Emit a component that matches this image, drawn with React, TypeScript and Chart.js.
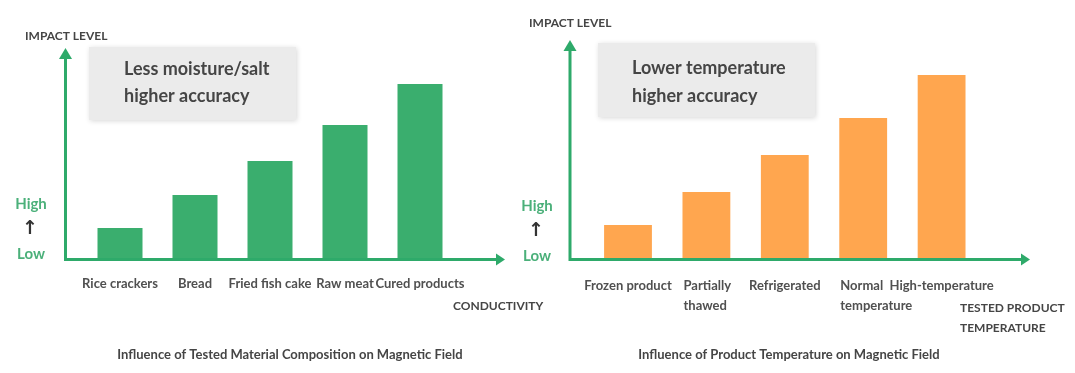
import React, { useEffect, useRef } from "react";
import { Chart, registerables } from "chart.js";
Chart.register(...registerables);

// ---------- data ----------
const compositionCategories: (string | string[])[] = ["Rice crackers", "Bread", "Fried fish cake", "Raw meat", "Cured products"];
const compositionImpact = [1.49, 3.05, 4.66, 6.36, 8.3];
const temperatureCategories: (string | string[])[] = ["Frozen product", ["Partially", "thawed"], "Refrigerated", ["Normal", "temperature"], "High-temperature"];
const temperatureImpact = [1.57, 3.08, 4.76, 6.45, 8.41];
const levelLabels = ["High", "↑", "Low"];
const compositionNote = ["Less moisture/salt", "higher accuracy"];
const temperatureNote = ["Lower temperature", "higher accuracy"];
const compositionXTitle = ["CONDUCTIVITY"];
const temperatureXTitle = ["TESTED PRODUCT", "TEMPERATURE"];
const yAxisTitle = "IMPACT LEVEL";
const compositionTitle = "Influence of Tested Material Composition on Magnetic Field";
const temperatureTitle = "Influence of Product Temperature on Magnetic Field";
const Y_MAX = 10;

const W = 1075;
const H = 373;
const FONT = "Lato, 'Noto Sans', sans-serif";
const TEXT = "#454545";
const LABEL = "#505050";
const AXIS = "#2eaa6a";
const GREEN_TEXT = "#4bb07a";

const decor = {
  id: "decor",
  beforeDatasetsDraw(chart: any, _a: any, o: any) {
    const ctx = chart.ctx as CanvasRenderingContext2D;
    ctx.save();
    ctx.shadowColor = "rgba(0,0,0,0.16)";
    ctx.shadowBlur = 5;
    ctx.shadowOffsetX = 1;
    ctx.shadowOffsetY = 1;
    ctx.fillStyle = "#ebebeb";
    ctx.fillRect(o.box.x, o.box.y, o.box.w, o.box.h);
    ctx.restore();
    ctx.save();
    ctx.fillStyle = TEXT;
    ctx.font = `bold 18px ${FONT}`;
    ctx.textBaseline = "middle";
    ctx.textAlign = "left";
    o.note.forEach((t: string, i: number) => ctx.fillText(t, o.box.textX, o.box.textY + i * o.box.gap));
    ctx.restore();
  },
  afterDatasetsDraw(chart: any, _a: any, o: any) {
    const ctx = chart.ctx as CanvasRenderingContext2D;
    const ca = chart.chartArea;
    const xs = chart.scales.x;
    const meta = chart.getDatasetMeta(0);
    const ax = ca.left - o.axisGap;
    const ay = ca.bottom;
    const tipX = ca.right + o.arrowExtend;
    ctx.save();
    // axes
    ctx.strokeStyle = AXIS;
    ctx.fillStyle = AXIS;
    ctx.lineWidth = 3;
    ctx.beginPath();
    ctx.moveTo(ax, ay + 1.5);
    ctx.lineTo(ax, ca.top + 9);
    ctx.moveTo(ax - 1.5, ay);
    ctx.lineTo(tipX - 7, ay);
    ctx.stroke();
    ctx.beginPath();
    ctx.moveTo(ax, ca.top);
    ctx.lineTo(ax - 6.5, ca.top + 11);
    ctx.lineTo(ax + 6.5, ca.top + 11);
    ctx.closePath();
    ctx.fill();
    ctx.beginPath();
    ctx.moveTo(tipX, ay);
    ctx.lineTo(tipX - 9, ay - 6);
    ctx.lineTo(tipX - 9, ay + 6);
    ctx.closePath();
    ctx.fill();

    // category labels
    ctx.font = `bold 13px ${FONT}`;
    ctx.fillStyle = LABEL;
    ctx.textBaseline = "middle";
    o.categories.forEach((lab: string | string[], i: number) => {
      const px = xs.getPixelForValue(i);
      const lines = Array.isArray(lab) ? lab : [lab];
      const bw = meta.data[i] ? meta.data[i].width : 0;
      if (lines.length > 1) {
        ctx.textAlign = "left";
        lines.forEach((l, j) => ctx.fillText(l, px - bw / 2 + 1, ay + o.labelOffset + j * 20));
      } else {
        ctx.textAlign = "center";
        ctx.fillText(lines[0], px, ay + o.labelOffset);
      }
    });

    // level indicator
    ctx.textAlign = "center";
    ctx.fillStyle = GREEN_TEXT;
    ctx.font = `bold 15px ${FONT}`;
    ctx.fillText(levelLabels[0], o.levelX, o.levelY);
    ctx.fillText(levelLabels[2], o.levelX, o.levelY + 50);
    ctx.fillStyle = "#333333";
    ctx.font = `bold 19px 'DejaVu Sans', sans-serif`;
    ctx.fillText(levelLabels[1], o.levelX - 1, o.levelY + 25);

    // axis titles
    ctx.fillStyle = TEXT;
    ctx.font = `bold 12px ${FONT}`;
    ctx.textAlign = "left";
    ctx.fillText(yAxisTitle, o.yTitleX, o.yTitleY);
    o.xTitle.forEach((t: string, i: number) => ctx.fillText(t, o.xTitleX, o.xTitleY + i * 20));

    // chart title
    ctx.font = `bold 13px ${FONT}`;
    ctx.textAlign = "center";
    ctx.fillText(o.title, o.titleX, 355);
    ctx.restore();
  },
};

function makeConfig(p: any) {
  return {
    type: "bar",
    data: {
      labels: p.categories,
      datasets: [
        {
          data: p.values,
          backgroundColor: p.color,
          borderWidth: 0,
          barPercentage: p.barPct,
          categoryPercentage: 1,
        },
      ],
    },
    options: {
      responsive: false,
      animation: false,
      events: [],
      layout: { padding: p.padding },
      scales: {
        x: { display: false, offset: true },
        y: { display: false, min: 0, max: Y_MAX },
      },
      plugins: {
        legend: { display: false },
        tooltip: { enabled: false },
        decor: p.decor,
      },
    },
    plugins: [decor],
  } as any;
}

const leftConfig = () =>
  makeConfig({
    categories: compositionCategories,
    values: compositionImpact,
    color: "#3aae6e",
    barPct: 0.6,
    padding: { left: 82.5, right: W - 457.5, top: 48, bottom: H - 259.5 },
    decor: {
      categories: compositionCategories,
      note: compositionNote,
      box: { x: 89, y: 47, w: 207, h: 73, textX: 124, textY: 69, gap: 27 },
      axisGap: 17,
      arrowExtend: 47.5,
      labelOffset: 24,
      levelX: 31,
      levelY: 204,
      yTitleX: 25,
      yTitleY: 36,
      xTitle: compositionXTitle,
      xTitleX: 453,
      xTitleY: 306,
      title: compositionTitle,
      titleX: 290,
    },
  });

const rightConfig = () =>
  makeConfig({
    categories: temperatureCategories,
    values: temperatureImpact,
    color: "#ffa64f",
    barPct: 0.61,
    padding: { left: 588.8, right: W - 980.8, top: 40, bottom: H - 259.5 },
    decor: {
      categories: temperatureCategories,
      note: temperatureNote,
      box: { x: 598, y: 43, w: 217, h: 74, textX: 632, textY: 68, gap: 28 },
      axisGap: 18.8,
      arrowExtend: 49.2,
      labelOffset: 26.5,
      levelX: 537,
      levelY: 206,
      yTitleX: 529,
      yTitleY: 23,
      xTitle: temperatureXTitle,
      xTitleX: 960,
      xTitleY: 308,
      title: temperatureTitle,
      titleX: 789,
    },
  });

function Panel({ build }: { build: () => any }) {
  const ref = useRef<HTMLCanvasElement>(null);
  useEffect(() => {
    const chart = new Chart(ref.current as HTMLCanvasElement, build());
    return () => chart.destroy();
  }, [build]);
  return (
    <canvas
      ref={ref}
      width={W}
      height={H}
      style={{ position: "absolute", left: 0, top: 0, width: W, height: H }}
    />
  );
}

export default function App() {
  return (
    <div style={{ position: "absolute", left: 0, top: 0, width: W, height: H, background: "#ffffff", overflow: "hidden" }}>
      <Panel build={leftConfig} />
      <Panel build={rightConfig} />
    </div>
  );
}
